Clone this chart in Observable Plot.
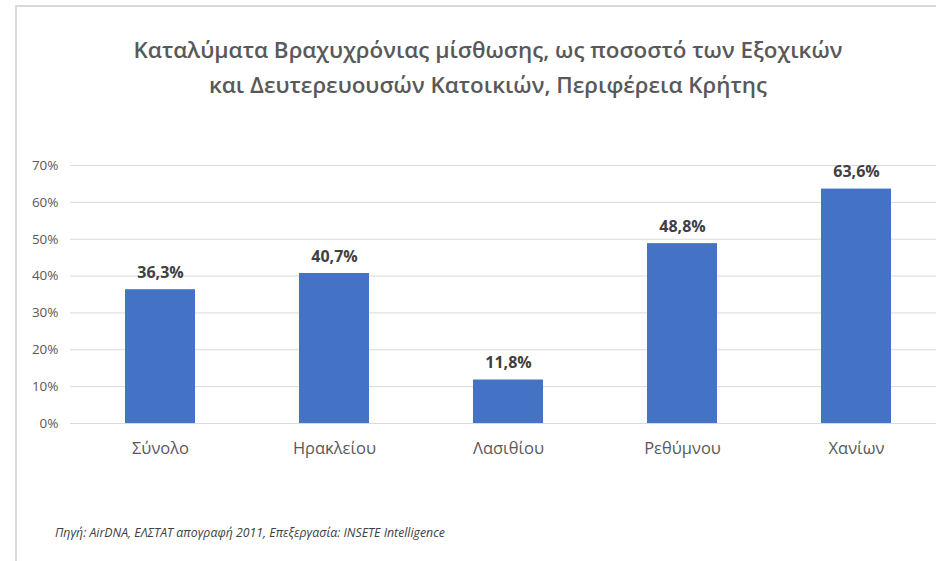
<!DOCTYPE html>
<html>
<head>
<meta charset="utf-8">
<script src="https://cdn.jsdelivr.net/npm/d3@7"></script>
<script src="https://cdn.jsdelivr.net/npm/@observablehq/plot@0.6"></script>
<style>
  html, body { margin: 0; padding: 0; background: #fff; }
  body { width: 936px; height: 561px; position: relative; overflow: hidden; font-family: "Open Sans", sans-serif; }
  #frame { position: absolute; left: 15px; top: 5px; width: 940px; height: 570px; border-left: 2px solid #d9d9d9; border-top: 2px solid #d9d9d9; box-sizing: border-box; }
  #title { position: absolute; left: 0; width: 976px; top: 32px; text-align: center; font-family: "Open Sans", sans-serif; font-weight: 600; font-size: 22.4px; line-height: 35px; color: #595959; }
  #chart { position: absolute; left: 0; top: 130px; }
  #caption { position: absolute; left: 55px; top: 524px; font-family: "Open Sans", sans-serif; font-style: italic; font-size: 12.3px; color: #404040; }
</style>
</head>
<body>
<div id="frame"></div>
<div id="title">Καταλύματα Βραχυχρόνιας μίσθωσης, ως ποσοστό των Εξοχικών<br>και Δευτερευουσών Κατοικιών, Περιφέρεια Κρήτης</div>
<div id="chart"></div>
<div id="caption">Πηγή: AirDNA, ΕΛΣΤΑΤ απογραφή 2011, Επεξεργασία: INSETE Intelligence</div>
<script>
const categories = ["Σύνολο", "Ηρακλείου", "Λασιθίου", "Ρεθύμνου", "Χανίων"];
const values = [36.3, 40.7, 11.8, 48.8, 63.6];
const yTicks = [0, 10, 20, 30, 40, 50, 60, 70];

const data = categories.map((c, i) => ({ category: c, value: values[i] }));
const fmt = v => v.toFixed(1).replace(".", ",") + "%";

const chart = Plot.plot({
  width: 936,
  height: 340,
  marginLeft: 70,
  marginRight: 0,
  marginTop: 35,
  marginBottom: 47,
  style: { fontFamily: "Open Sans, sans-serif", background: "transparent", overflow: "visible" },
  x: { domain: categories, range: [70.6, 944.4], paddingInner: 0.6, paddingOuter: 0.3, label: null },
  y: { domain: [0, 70], label: null },
  marks: [
    Plot.ruleY(yTicks, { stroke: "#d9d9d9", strokeWidth: 1, strokeOpacity: 1 }),
    Plot.barY(data, { x: "category", y: "value", fill: "#4472C4" }),
    Plot.text(data, { x: "category", y: "value", text: d => fmt(d.value), dy: -17, fontSize: 16, fontWeight: "bold", fill: "#404040" }),
    Plot.axisY(yTicks, { tickSize: 0, tickPadding: 12, tickFormat: d => d + "%", fontSize: 13.5, fill: "#595959" }),
    Plot.axisX({ tickSize: 0, tickPadding: 19, fontSize: 16.5, fill: "#595959" })
  ]
});
document.getElementById("chart").appendChild(chart);
</script>
</body>
</html>
